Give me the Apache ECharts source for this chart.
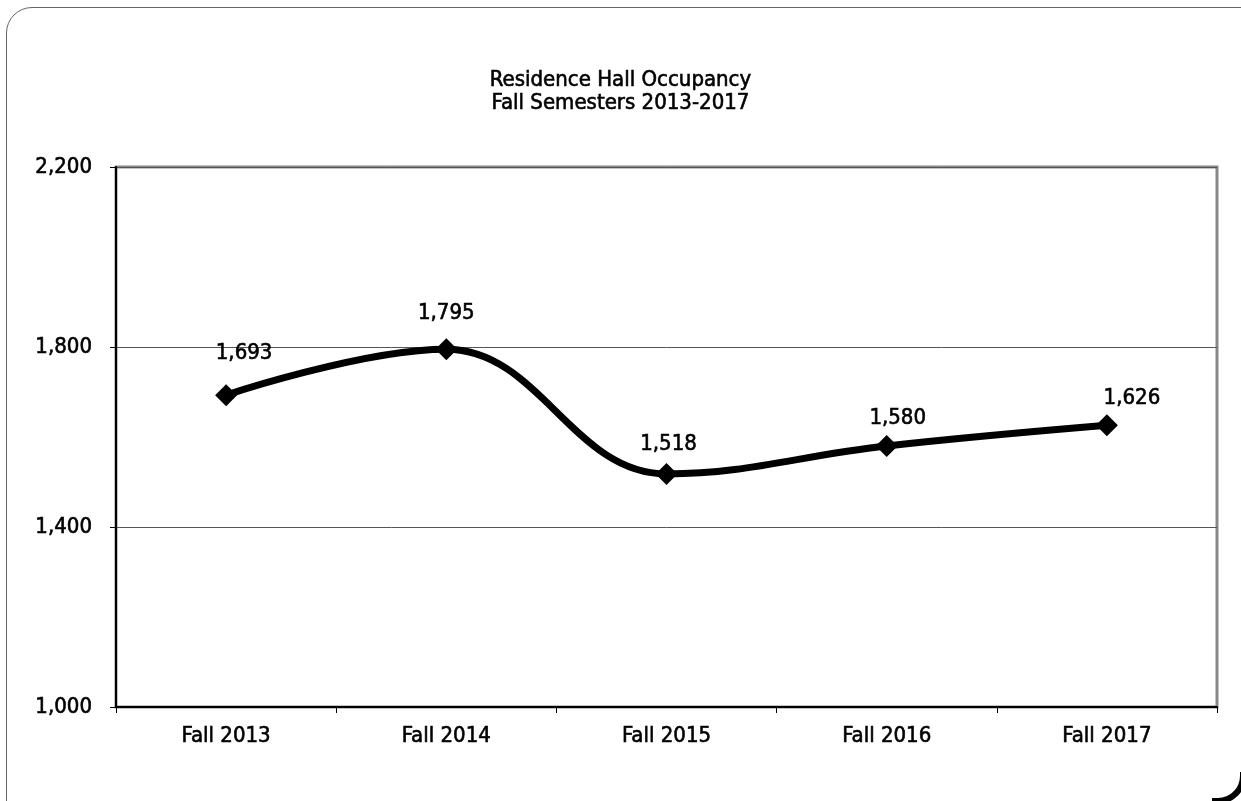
<!DOCTYPE html>
<html>
<head>
<meta charset="utf-8">
<script src="https://cdn.jsdelivr.net/npm/echarts@6/dist/echarts.min.js"></script>
<style>
  html, body { margin: 0; padding: 0; background: #fff; overflow: hidden; width: 1241px; height: 801px; }
  #frame {
    position: absolute; left: 6px; top: 7px; width: 1400px; height: 900px;
    border: 1px solid #666; border-radius: 26px;
    box-sizing: border-box;
  }
  #corner { position: absolute; left: 1212px; top: 772px; width: 29px; height: 29px; overflow: hidden; }
  #corner div {
    position: absolute; left: -160px; top: -160px; width: 194px; height: 192px;
    border-right: 6px solid #000; border-bottom: 6px solid #000;
    border-bottom-right-radius: 28px; box-sizing: border-box;
  }
  #chart { position: absolute; left: 0; top: 0; width: 1241px; height: 801px; }
</style>
</head>
<body>
<div id="frame"></div>
<div id="corner"><div></div></div>
<div id="chart"></div>
<script>
const categories = ["Fall 2013", "Fall 2014", "Fall 2015", "Fall 2016", "Fall 2017"];
const occupancy = [1693, 1795, 1518, 1580, 1626];
const yTicks = [1000, 1400, 1800, 2200];

// label nudges, matching where the original chart had them placed
const labelNudge = [[18, -15], [0, -9], [2, -3], [11, -1], [25, 0]];

const font = '"DejaVu Sans Condensed", "Liberation Sans Narrow", sans-serif';
const fmt = (v) => v.toLocaleString("en-US");
// slightly heavier strokes, closer to the original narrow font
const txt = { fontFamily: font, color: "#000", textBorderColor: "#000", textBorderWidth: 0.6 };

const chart = echarts.init(document.getElementById("chart"));
const option = {
  animation: false,
  title: {
    text: "Residence Hall Occupancy\nFall Semesters 2013-2017",
    left: "center",
    top: 64,
    textStyle: { ...txt, fontSize: 22, fontWeight: "normal", lineHeight: 23 },
  },
  grid: {
    left: 116,
    right: 24,
    top: 167,
    bottom: 94,
    show: true,
    borderColor: "#888",
    borderWidth: 3,
  },
  xAxis: {
    type: "category",
    data: categories,
    boundaryGap: true,
    axisLine: { lineStyle: { color: "#000", width: 2 } },
    axisTick: { show: true, length: 6, lineStyle: { color: "#000" } },
    axisLabel: { ...txt, fontSize: 22, margin: 18 },
  },
  yAxis: {
    type: "value",
    min: yTicks[0],
    max: yTicks[yTicks.length - 1],
    interval: 400,
    axisLine: { show: true, lineStyle: { color: "#000", width: 2 } },
    axisTick: { show: true, length: 6, lineStyle: { color: "#000" } },
    axisLabel: { ...txt, fontSize: 22, margin: 24, formatter: fmt },
    splitLine: { lineStyle: { color: "#555", width: 1 } },
  },
  series: [
    {
      type: "line",
      data: occupancy.map((v, i) => ({ value: v, label: { offset: labelNudge[i] } })),
      smooth: 0.4,
      symbol: "diamond",
      symbolSize: 22,
      lineStyle: { color: "#000", width: 7 },
      itemStyle: { color: "#000" },
      label: {
        show: true,
        position: "top",
        distance: 5,
        formatter: (p) => fmt(p.value),
        ...txt,
        fontSize: 22,
      },
    },
  ],
};
chart.setOption(option);
</script>
</body>
</html>
